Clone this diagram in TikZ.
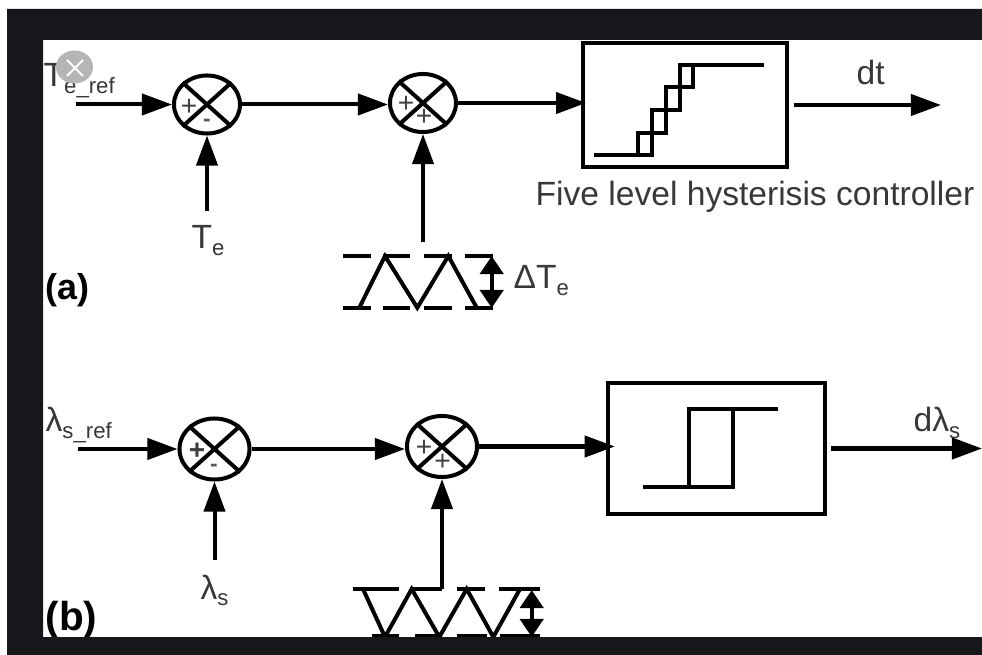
\documentclass[tikz,border=0pt]{standalone}
\usepackage{fontspec}
\setmainfont{Liberation Sans}
\usetikzlibrary{arrows.meta,shapes.geometric}

\definecolor{framecol}{RGB}{21,23,26}

\newcommand{\subtxt}[1]{\raisebox{-0.36ex}{\fontsize{6.3}{7}\selectfont #1}}

\tikzset{
  sumnode/.style={draw, ellipse, line width=0.04cm, minimum width=0.66cm, minimum height=0.58cm, inner sep=0pt},
  blocknode/.style={draw, line width=0.038cm, inner sep=0pt},
  flow/.style={line width=0.04cm, -{Triangle[length=0.3cm,width=0.21cm]}},
  flowboth/.style={line width=0.04cm, {Triangle[length=0.18cm,width=0.23cm]}-{Triangle[length=0.18cm,width=0.23cm]}},
  wire/.style={line width=0.04cm},
  lbl/.style={inner sep=0pt, anchor=base west, text=black!78, font=\fontsize{9.55}{11}\selectfont},
  signlbl/.style={inner sep=0pt, text=black!75, font=\fontsize{8}{9}\selectfont},
  minuslbl/.style={inner sep=0pt, text=black!65, font=\fontsize{6.5}{8}\selectfont\bfseries},
  partlbl/.style={inner sep=0pt, anchor=base west, font=\fontsize{10.2}{12}\selectfont\bfseries}
}

\begin{document}
\begin{tikzpicture}[x=0.01cm,y=-0.01cm]

\useasboundingbox (0,0) rectangle (982,655);
\fill[white] (0,0) rectangle (982,655);

\node[sumnode] (suma) at (207,104.5) {};
\node[sumnode] (sumb) at (423,103) {};
\node[sumnode, minimum width=0.70cm, minimum height=0.61cm] (sumc) at (214.5,449) {};
\node[sumnode, minimum width=0.70cm, minimum height=0.61cm] (sumd) at (442,446.5) {};
\foreach \sumname in {suma,sumb,sumc,sumd} {
  \draw[wire] (\sumname.42) -- (\sumname.222);
  \draw[wire] (\sumname.138) -- (\sumname.318);
}

\node[signlbl] (signa) at (189,107) {+};
\node[minuslbl] (signb) at (207,123) {-};
\node[signlbl] (signc) at (406,104) {+};
\node[signlbl] (signd) at (424,117) {+};
\node[signlbl] (signe) at (197,451) {\textbf{+}};
\node[minuslbl] (signf) at (214,468) {-};
\node[signlbl] (signg) at (424,448) {+};
\node[signlbl] (signh) at (442.5,462) {+};

\node[blocknode, minimum width=2.04cm, minimum height=1.24cm] (boxa) at (685,105) {};
\node[blocknode, minimum width=2.17cm, minimum height=1.31cm] (boxb) at (716.5,448.5) {};

\draw[wire] (594,155.3) -- (638.3,155.3) -- (638.3,132.7) -- (651.7,132.7) -- (651.7,110) -- (666,110) -- (666,87.3) -- (680,87.3) -- (680,65) -- (764,65);
\draw[wire] (638.3,155.3) -- (651.7,155.3) -- (651.7,132.7) -- (666,132.7) -- (666,110) -- (680,110) -- (680,87.3) -- (693.3,87.3) -- (693.3,65);

\draw[wire] (643,487) -- (733,487) -- (733,409) -- (778,409);
\draw[wire] (688.7,487) -- (688.7,409) -- (733,409);

\foreach \xa/\xb in {342.7/370.7,383/410,424/451.7,465/493} {
  \draw[wire] (\xa,256) -- (\xb,256);
  \draw[wire] (\xa,307.7) -- (\xb,307.7);
}
\draw[wire] (359.3,307.7) -- (385,256) -- (417.3,307.7) -- (448.3,256) -- (476.7,307.7);

\foreach \xa/\xb in {352.7/399.3,410/442,456.7/485,499/540} {
  \draw[wire] (\xa,589) -- (\xb,589);
}
\foreach \xa/\xb in {371.7/399,415/441.7,456.7/486.7,500/540} {
  \draw[wire] (\xa,636) -- (\xb,636);
}
\draw[wire] (363,589) -- (385,637) -- (411.7,589) -- (439.3,637) -- (466.7,589) -- (493.3,637) -- (520,589);

\coordinate (terefin) at (76,104.5);
\coordinate (tein) at (207,211);
\coordinate (sawain) at (423,241.7);
\coordinate (dtout) at (941,105);
\coordinate (sawatop) at (491.7,256);
\coordinate (sawabot) at (491.7,308);
\coordinate (lamrefin) at (78,449);
\coordinate (lamin) at (214.5,560);
\coordinate (sawbin) at (442,589);
\coordinate (lamout) at (982,448.5);
\coordinate (sawbtop) at (531.7,590);
\coordinate (sawbbot) at (531.7,637);

\draw[flow] (terefin) -- (suma.west);
\draw[flow] (tein) -- (suma.south);
\draw[flow] (suma.east) -- (suma.east -| sumb.west);
\draw[flow] (sawain) -- (sumb.south);
\draw[flow, shorten >=-0.05cm] (sumb.east) -- (sumb.east -| boxa.west);
\draw[flow, shorten <=0.05cm] (boxa.east) -- (dtout);
\draw[flowboth] (sawatop) -- (sawabot);

\draw[flow] (lamrefin) -- (sumc.west);
\draw[flow] (lamin) -- (sumc.south);
\draw[flow] (sumc.east) -- (sumc.east -| sumd.west);
\draw[flow] (sawbin) -- (sumd.south);
\draw[flow, shorten >=-0.087cm] (sumd.east) -- (sumd.east -| boxb.west);
\draw[flow, shorten <=0.04cm] (boxb.east) -- (lamout);
\draw[flowboth] (sawbtop) -- (sawbbot);

\node[lbl] (terefl) at (43,87) {T\subtxt{e\_ref}};
\node[lbl] (tel) at (191,249) {T\subtxt{e}};
\node[lbl] (dtl) at (856,85) {dt};
\node[lbl] (fivel) at (535,205.5) {Five level hysterisis controller};
\node[lbl] (deltal) at (513,289) {ΔT\subtxt{e}};
\node[lbl] (lamrefl) at (45,432) {λ\subtxt{s\_ref}};
\node[lbl] (laml) at (200,599) {λ\subtxt{s}};
\node[lbl] (dlaml) at (913,432) {dλ\subtxt{s}};
\node[partlbl] (partal) at (45,300) {(a)};
\node[partlbl, font=\fontsize{11.5}{13}\selectfont\bfseries] (partbl) at (45,630) {(b)};

\node[ellipse, fill=black!29, minimum width=0.37cm, minimum height=0.33cm, inner sep=0pt] (closebtn) at (74.5,67) {};
\draw[white, line width=0.02cm] (67,60) -- (83,76);
\draw[white, line width=0.02cm] (83,60) -- (67,76);

\fill[framecol, even odd rule] (7,9) rectangle (982,655) (43,40) rectangle (982,637);

\end{tikzpicture}
\end{document}
